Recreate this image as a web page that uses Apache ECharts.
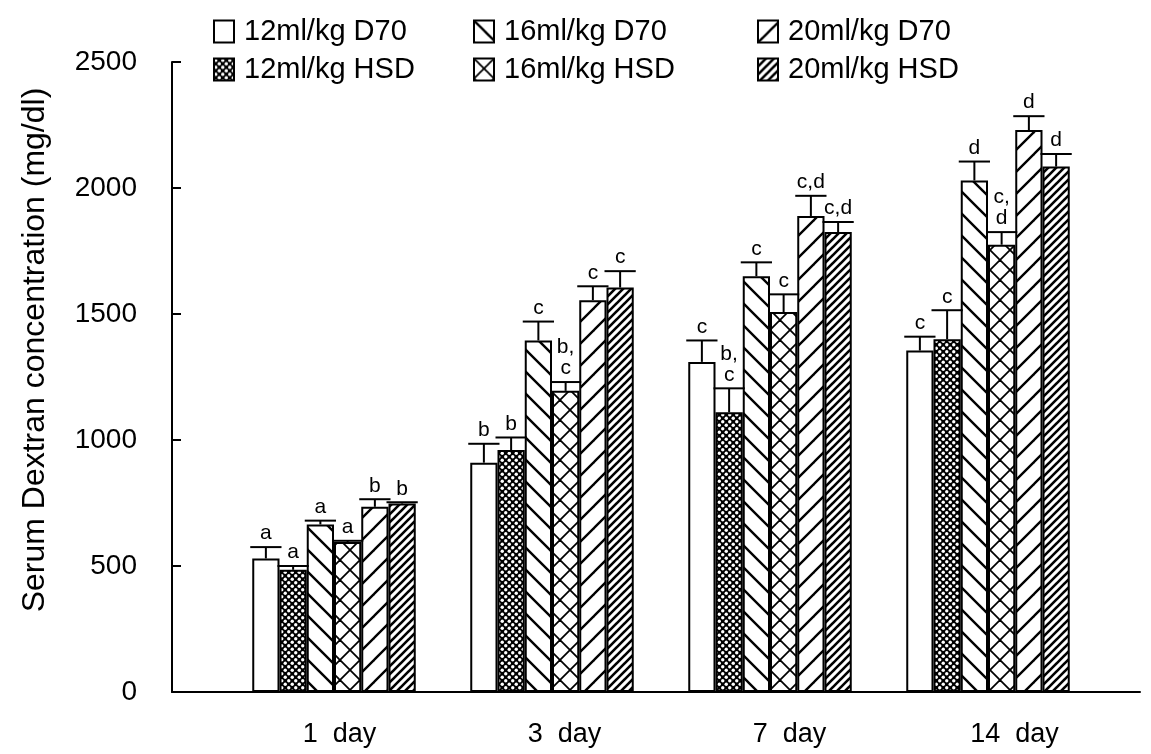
<!DOCTYPE html>
<html>
<head>
<meta charset="utf-8">
<script src="https://cdn.jsdelivr.net/npm/echarts@6/dist/echarts.min.js"></script>
<style>html,body{margin:0;padding:0;background:#fff}#c{width:1151px;height:754px}</style>
</head>
<body>
<div id="c"></div>
<script>
var categories = ['1  day', '3  day', '7  day', '14  day'];
var seriesNames = ['12ml/kg D70', '12ml/kg HSD', '16ml/kg D70', '16ml/kg HSD', '20ml/kg D70', '20ml/kg HSD'];
var d70_12 = [530, 910, 1310, 1355];
var hsd_12 = [485, 960, 1110, 1400];
var d70_16 = [665, 1395, 1650, 2030];
var hsd_16 = [595, 1195, 1508, 1775];
var d70_20 = [735, 1555, 1889, 2230];
var hsd_20 = [748, 1605, 1825, 2085];
var err_d70_12 = [45, 75, 85, 55];
var err_hsd_12 = [15, 50, 95, 115];
var err_d70_16 = [15, 75, 55, 75];
var err_hsd_16 = [5, 35, 70, 50];
var err_d70_20 = [30, 55, 80, 55];
var err_hsd_20 = [5, 65, 40, 50];
var lab_d70_12 = ['a', 'b', 'c', 'c'];
var lab_hsd_12 = ['a', 'b', 'b,\nc', 'c'];
var lab_d70_16 = ['a', 'c', 'c', 'd'];
var lab_hsd_16 = ['a', 'b,\nc', 'c', 'c,\nd'];
var lab_d70_20 = ['b', 'c', 'c,d', 'd'];
var lab_hsd_20 = ['b', 'c', 'c,d', 'd'];
var yTicks = [0, 500, 1000, 1500, 2000, 2500];

var values = [d70_12, hsd_12, d70_16, hsd_16, d70_20, hsd_20];
var errs = [err_d70_12, err_hsd_12, err_d70_16, err_hsd_16, err_d70_20, err_hsd_20];
var labs = [lab_d70_12, lab_hsd_12, lab_d70_16, lab_hsd_16, lab_d70_20, lab_hsd_20];

function mk(s) { var c = document.createElement('canvas'); c.width = s; c.height = s; var g = c.getContext('2d'); g.fillStyle = '#fff'; g.fillRect(0, 0, s, s); return [c, g]; }
function hatch(s, lw, back, fwd) {
  var r = mk(s), c = r[0], g = r[1];
  g.strokeStyle = '#000'; g.lineWidth = lw; g.lineCap = 'square';
  for (var k = -1; k <= 1; k++) {
    if (back) { g.beginPath(); g.moveTo(k * s, 0); g.lineTo(k * s + s, s); g.stroke(); }
    if (fwd) { g.beginPath(); g.moveTo(k * s, s); g.lineTo(k * s + s, 0); g.stroke(); }
  }
  return c;
}
function dots() {
  var s = 7, r = mk(s), c = r[0], g = r[1];
  g.fillStyle = '#000'; g.fillRect(0, 0, s, s);
  g.fillStyle = '#fff';
  [[1.75, 1.75], [5.25, 5.25]].forEach(function (p) { g.beginPath(); g.arc(p[0], p[1], 1.7, 0, Math.PI * 2); g.fill(); });
  return c;
}
var fills = [
  '#ffffff',
  { image: dots(), repeat: 'repeat' },
  { image: hatch(22, 2.4, true, false), repeat: 'repeat' },
  { image: hatch(20, 1.8, true, true), repeat: 'repeat' },
  { image: hatch(22, 2.4, false, true), repeat: 'repeat' },
  { image: hatch(8, 2.6, false, true), repeat: 'repeat' }
];

var FONT = 'Liberation Sans, Arial, Helvetica, sans-serif';
var series = seriesNames.map(function (n, i) {
  return {
    name: n, type: 'bar', xAxisIndex: 1, yAxisIndex: 1,
    barGap: '0%', barCategoryGap: '25%',
    data: values[i],
    itemStyle: { color: fills[i], borderColor: '#000', borderWidth: 2 },
    emphasis: { disabled: true }, animation: false
  };
});
var errData = [];
values.forEach(function (arr, si) {
  arr.forEach(function (v, ci) { errData.push([ci, si, v, errs[si][ci], labs[si][ci]]); });
});
series.push({
  type: 'custom', xAxisIndex: 1, yAxisIndex: 1, z: 5, animation: false, silent: true,
  encode: { x: 0, y: 2 },
  data: errData,
  renderItem: function (params, api) {
    var ci = api.value(0), si = api.value(1), v = api.value(2), e = api.value(3);
    var lab = errData[params.dataIndex][4];
    var p = api.coord([ci, v]), t = api.coord([ci, v + e]);
    var band = api.size([1, 0])[0];
    var grp = band * 0.75, bw = grp / 6;
    var cx = p[0] - grp / 2 + bw * (si + 0.5);
    return {
      type: 'group',
      children: [
        { type: 'line', shape: { x1: cx, y1: p[1], x2: cx, y2: t[1] }, style: { stroke: '#000', lineWidth: 2 } },
        { type: 'line', shape: { x1: cx - bw / 2 - 2, y1: t[1], x2: cx + bw / 2 + 2, y2: t[1] }, style: { stroke: '#000', lineWidth: 2 } },
        { type: 'text', x: cx, y: t[1] - 3, style: { text: lab, fill: '#000', font: '21px ' + FONT, align: 'center', verticalAlign: 'bottom', lineHeight: 21 } }
      ]
    };
  }
});

function legendCol(left, names) {
  return {
    left: left, top: 12, orient: 'vertical', selectedMode: false,
    icon: 'rect', itemWidth: 20, itemHeight: 22, itemGap: 9,
    data: names,
    itemStyle: { borderColor: '#000', borderWidth: 2 },
    textStyle: { fontSize: 29, fontFamily: FONT, color: '#000', padding: [0, 0, 0, 5] }
  };
}

var chart = echarts.init(document.getElementById('c'));
chart.setOption({
  backgroundColor: '#fff',
  animation: false,
  legend: [
    legendCol(208, ['12ml/kg D70', '12ml/kg HSD']),
    legendCol(468, ['16ml/kg D70', '16ml/kg HSD']),
    legendCol(752, ['20ml/kg D70', '20ml/kg HSD'])
  ],
  grid: [
    { left: 172, right: 11, top: 62, bottom: 62 },
    { left: 225, right: 54, top: 62, bottom: 62 },
    { left: 227, right: 24, top: 62, bottom: 62 }
  ],
  xAxis: [
    { gridIndex: 0, type: 'value', min: 0, max: 1, axisLine: { show: true, onZero: false, lineStyle: { color: '#000', width: 2 } }, axisTick: { show: false }, axisLabel: { show: false }, splitLine: { show: false } },
    { gridIndex: 1, type: 'category', data: categories, axisLine: { show: false }, axisTick: { show: false }, axisLabel: { show: false } },
    { gridIndex: 2, type: 'category', data: categories, axisLine: { show: false }, axisTick: { show: false }, axisLabel: { show: true, margin: 29, fontSize: 27, fontFamily: FONT, color: '#000' } }
  ],
  yAxis: [
    { gridIndex: 0, type: 'value', min: yTicks[0], max: yTicks[yTicks.length - 1], interval: 500,
      name: 'Serum Dextran concentration (mg/dl)', nameLocation: 'middle', nameGap: 121,
      nameTextStyle: { fontSize: 32, fontFamily: FONT, color: '#000', padding: [0, 0, 0, 54] },
      axisLine: { show: true, lineStyle: { color: '#000', width: 2 } },
      axisTick: { show: true, inside: true, length: 9, lineStyle: { color: '#000', width: 2 } },
      axisLabel: { margin: 35, fontSize: 28, fontFamily: FONT, color: '#000', formatter: function (v) { return String(v); } },
      splitLine: { show: false } },
    { gridIndex: 1, type: 'value', min: 0, max: 2500, show: false },
    { gridIndex: 2, type: 'value', min: 0, max: 2500, show: false }
  ],
  series: series
});
</script>
</body>
</html>
